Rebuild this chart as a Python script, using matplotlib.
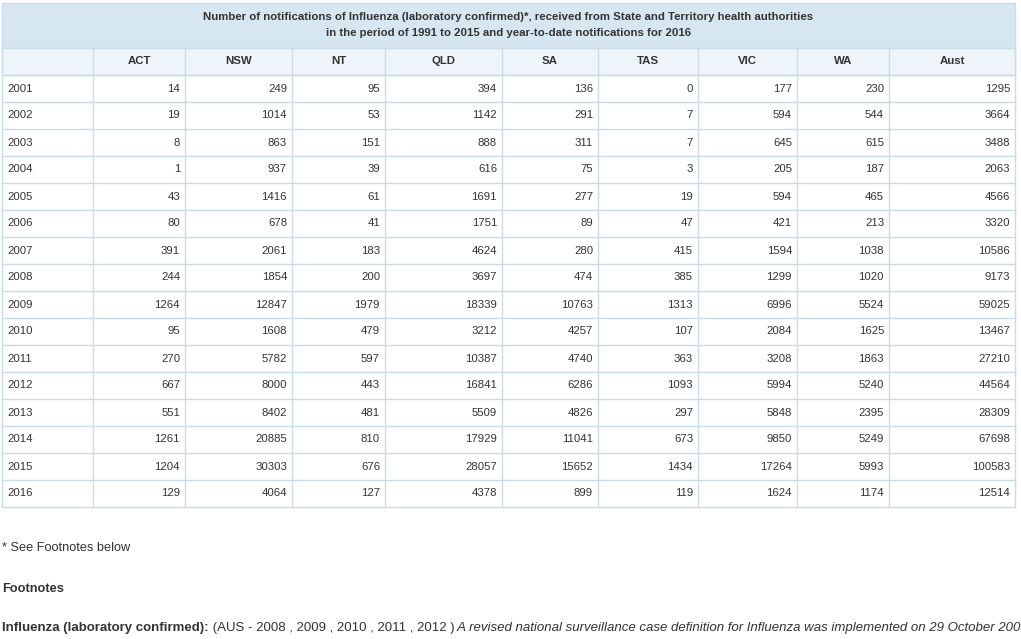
import matplotlib
matplotlib.use("Agg")
import matplotlib.pyplot as plt
from matplotlib.patches import Rectangle

plt.rcParams["font.family"] = ["Liberation Sans", "DejaVu Sans"]

title_lines = ["Number of notifications of Influenza (laboratory confirmed)*, received from State and Territory health authorities",
               "in the period of 1991 to 2015 and year-to-date notifications for 2016"]
columns = ["", "ACT", "NSW", "NT", "QLD", "SA", "TAS", "VIC", "WA", "Aust"]
years = [2001, 2002, 2003, 2004, 2005, 2006, 2007, 2008, 2009, 2010, 2011, 2012, 2013, 2014, 2015, 2016]
ACT = [14, 19, 8, 1, 43, 80, 391, 244, 1264, 95, 270, 667, 551, 1261, 1204, 129]
NSW = [249, 1014, 863, 937, 1416, 678, 2061, 1854, 12847, 1608, 5782, 8000, 8402, 20885, 30303, 4064]
NT = [95, 53, 151, 39, 61, 41, 183, 200, 1979, 479, 597, 443, 481, 810, 676, 127]
QLD = [394, 1142, 888, 616, 1691, 1751, 4624, 3697, 18339, 3212, 10387, 16841, 5509, 17929, 28057, 4378]
SA = [136, 291, 311, 75, 277, 89, 280, 474, 10763, 4257, 4740, 6286, 4826, 11041, 15652, 899]
TAS = [0, 7, 7, 3, 19, 47, 415, 385, 1313, 107, 363, 1093, 297, 673, 1434, 119]
VIC = [177, 594, 645, 205, 594, 421, 1594, 1299, 6996, 2084, 3208, 5994, 5848, 9850, 17264, 1624]
WA = [230, 544, 615, 187, 465, 213, 1038, 1020, 5524, 1625, 1863, 5240, 2395, 5249, 5993, 1174]
Aust = [1295, 3664, 3488, 2063, 4566, 3320, 10586, 9173, 59025, 13467, 27210, 44564, 28309, 67698, 100583, 12514]
series = [ACT, NSW, NT, QLD, SA, TAS, VIC, WA, Aust]

W, H = 1021, 639
fig = plt.figure(figsize=(W / 100, H / 100), dpi=100)
ax = fig.add_axes([0, 0, 1, 1])
ax.set_xlim(0, W); ax.set_ylim(H, 0); ax.axis("off")

xs = [2, 93, 185, 292, 385, 502, 598, 698, 797, 889, 1015]
top, ttl_bot, hdr_bot = 3, 48, 75
row_h = (507 - hdr_bot) / len(years)
bottom = hdr_bot + row_h * len(years)
border = "#c9dde9"
txt = "#333333"
fs = 8.2

ax.add_patch(Rectangle((xs[0], top), xs[-1] - xs[0], ttl_bot - top, fc="#d6e7f1", ec=border, lw=1))
ax.add_patch(Rectangle((xs[0], ttl_bot), xs[-1] - xs[0], hdr_bot - ttl_bot, fc="#eef5fa", ec=border, lw=1))
ax.text((xs[0] + xs[-1]) / 2, 17, title_lines[0], ha="center", va="center", fontsize=fs, weight="bold", color=txt)
ax.text((xs[0] + xs[-1]) / 2, 33, title_lines[1], ha="center", va="center", fontsize=fs, weight="bold", color=txt)

for x in xs:
    ax.plot([x, x], [ttl_bot, bottom], color=border, lw=1)
for i in range(len(years) + 1):
    y = hdr_bot + i * row_h
    ax.plot([xs[0], xs[-1]], [y, y], color=border, lw=1)

for j, c in enumerate(columns):
    if c:
        ax.text((xs[j] + xs[j + 1]) / 2, (ttl_bot + hdr_bot) / 2, c, ha="center", va="center",
                fontsize=fs, weight="bold", color=txt)

for i, yr in enumerate(years):
    yc = hdr_bot + (i + 0.5) * row_h
    ax.text(xs[0] + 5, yc, str(yr), ha="left", va="center", fontsize=fs, color=txt)
    for j, s in enumerate(series):
        ax.text(xs[j + 2] - 5, yc, str(s[i]), ha="right", va="center", fontsize=fs, color=txt)

ax.text(2, 548, "* See Footnotes below", ha="left", va="center", fontsize=9.2, color=txt)
ax.text(2, 589, "Footnotes", ha="left", va="center", fontsize=9.2, weight="bold", color=txt)

parts = [("Influenza (laboratory confirmed):", "bold", "normal"),
         (" (AUS - 2008 , 2009 , 2010 , 2011 , 2012 )", "normal", "normal"),
         (" A revised national surveillance case definition for Influenza was implemented on 29 October 2008", "normal", "italic")]
fig.canvas.draw()
r = fig.canvas.get_renderer()
x = 2
for s, w, st in parts:
    t = ax.text(x, 628, s, ha="left", va="center", fontsize=9.5, weight=w, style=st, color=txt)
    x += t.get_window_extent(r).width

fig.savefig("out.png", dpi=100)
